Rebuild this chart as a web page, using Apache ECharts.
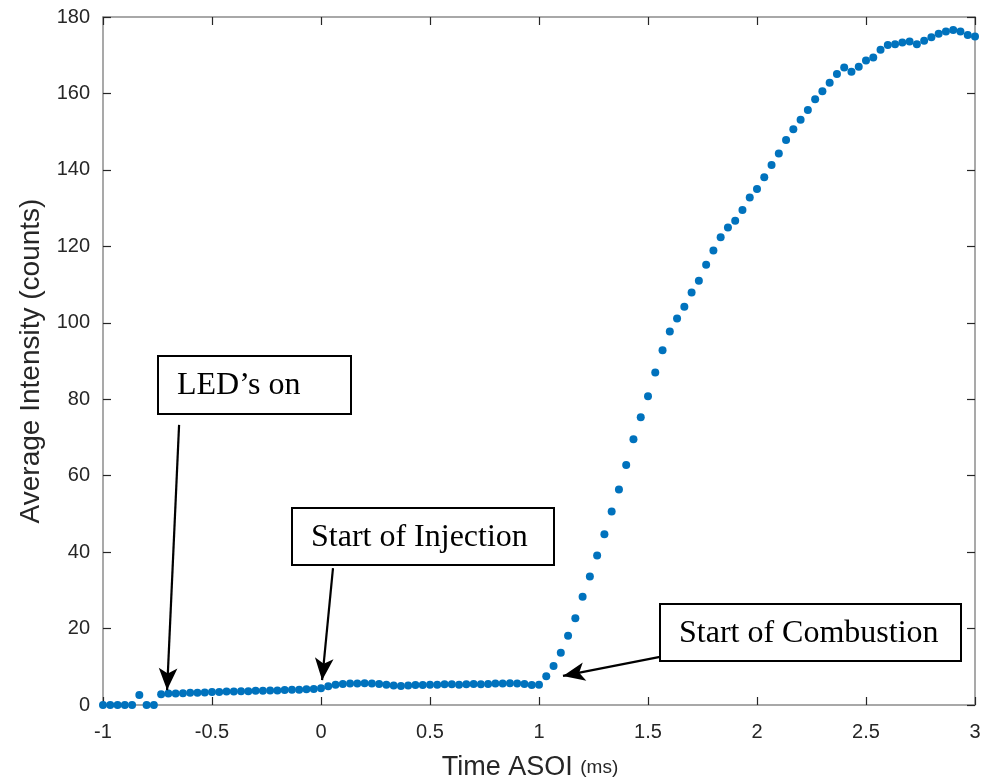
<!DOCTYPE html>
<html>
<head>
<meta charset="utf-8">
<script src="https://cdn.jsdelivr.net/npm/echarts@6/dist/echarts.min.js"></script>
<style>html,body{margin:0;padding:0;background:#fff}#c{width:984px;height:782px}</style>
</head>
<body>
<div id="c"></div>
<script>
// Sample times (ms after start of injection), 30 kHz frame rate
var timeMs = [
 -1.0000,-0.9667,-0.9333,-0.9000,-0.8667,-0.8333,-0.8000,-0.7667,-0.7333,-0.7000,
 -0.6667,-0.6333,-0.6000,-0.5667,-0.5333,-0.5000,-0.4667,-0.4333,-0.4000,-0.3667,
 -0.3333,-0.3000,-0.2667,-0.2333,-0.2000,-0.1667,-0.1333,-0.1000,-0.0667,-0.0333,
  0.0000, 0.0333, 0.0667, 0.1000, 0.1333, 0.1667, 0.2000, 0.2333, 0.2667, 0.3000,
  0.3333, 0.3667, 0.4000, 0.4333, 0.4667, 0.5000, 0.5333, 0.5667, 0.6000, 0.6333,
  0.6667, 0.7000, 0.7333, 0.7667, 0.8000, 0.8333, 0.8667, 0.9000, 0.9333, 0.9667,
  1.0000, 1.0333, 1.0667, 1.1000, 1.1333, 1.1667, 1.2000, 1.2333, 1.2667, 1.3000,
  1.3333, 1.3667, 1.4000, 1.4333, 1.4667, 1.5000, 1.5333, 1.5667, 1.6000, 1.6333,
  1.6667, 1.7000, 1.7333, 1.7667, 1.8000, 1.8333, 1.8667, 1.9000, 1.9333, 1.9667,
  2.0000, 2.0333, 2.0667, 2.1000, 2.1333, 2.1667, 2.2000, 2.2333, 2.2667, 2.3000,
  2.3333, 2.3667, 2.4000, 2.4333, 2.4667, 2.5000, 2.5333, 2.5667, 2.6000, 2.6333,
  2.6667, 2.7000, 2.7333, 2.7667, 2.8000, 2.8333, 2.8667, 2.9000, 2.9333, 2.9667,
  3.0000
];
// Average intensity (counts)
var intensity = [
  0.0, 0.0, 0.0, 0.0, 0.0, 2.6, 0.0, 0.0, 2.8, 3.0,
  3.0, 3.1, 3.2, 3.2, 3.3, 3.4, 3.4, 3.5, 3.5, 3.6,
  3.6, 3.7, 3.7, 3.8, 3.8, 3.9, 4.0, 4.0, 4.1, 4.2,
  4.4, 4.9, 5.3, 5.5, 5.6, 5.6, 5.7, 5.6, 5.5, 5.3,
  5.1, 5.0, 5.1, 5.2, 5.2, 5.3, 5.3, 5.4, 5.4, 5.3,
  5.4, 5.5, 5.4, 5.5, 5.6, 5.6, 5.7, 5.6, 5.5, 5.2,
  5.3, 7.5, 10.2, 13.7, 18.1, 22.7, 28.3, 33.6, 39.1, 44.7,
  50.6, 56.4, 62.8, 69.5, 75.3, 80.8, 87.0, 92.8, 97.7, 101.1,
  104.2, 107.9, 111.0, 115.2, 118.9, 122.4, 124.9, 126.7, 129.5, 132.8,
  135.0, 138.1, 141.3, 144.3, 147.8, 150.6, 153.1, 155.7, 158.5, 160.6,
  162.8, 165.1, 166.8, 165.7, 167.0, 168.6, 169.4, 171.4, 172.7, 172.9,
  173.3, 173.6, 172.9, 173.8, 174.7, 175.6, 176.2, 176.6, 176.2, 175.3,
  174.9
];
// Annotations: label, arrow tail [x, y], arrow head [x, y] in data units
var annotationLabels = ["LED\u2019s on", "Start of Injection", "Start of Combustion"];
var arrowTails = [[-0.651, 73.3], [0.055, 35.8], [1.555, 12.6]];
var arrowHeads = [[-0.706, 3.9], [0.005, 6.5], [1.110, 7.6]];

var chart = echarts.init(document.getElementById('c'), null, {renderer: 'canvas'});
var pts = timeMs.map(function (t, i) { return [t, intensity[i]]; });

var axisColor = '#8c8c8c';
var labelColor = '#262626';
var font = '"Liberation Sans", Arial, sans-serif';

var arrowLines = arrowTails.map(function (s, i) {
  return [{coord: s}, {coord: arrowHeads[i]}];
});

var boxStyle = {fill: '#fff', stroke: '#000', lineWidth: 2};
var boxes = [
  {x: 157, y: 355, w: 193, h: 58},
  {x: 291, y: 507, w: 262, h: 57},
  {x: 659, y: 603, w: 301, h: 57}
];
var graphics = [];
boxes.forEach(function (b, i) {
  graphics.push({
    type: 'rect', left: b.x, top: b.y, z: 100,
    shape: {width: b.w, height: b.h},
    style: boxStyle
  });
  graphics.push({
    type: 'text', z: 101,
    x: b.x + 20, y: b.y + b.h / 2 + 2,
    style: {text: annotationLabels[i], font: '32px "Liberation Serif", "Times New Roman", serif',
      fill: '#000', textVerticalAlign: 'middle', verticalAlign: 'middle'}
  });
});

chart.setOption({
  animation: false,
  backgroundColor: '#fff',
  grid: {left: 103, right: 9, top: 17, bottom: 77, containLabel: false, outerBoundsMode: 'none'},
  xAxis: [{
    type: 'value', min: -1, max: 3, interval: 0.5,
    name: 'Time ASOI {s|(ms)}',
    nameLocation: 'middle', nameGap: 49,
    nameTextStyle: {color: labelColor, fontSize: 27, fontFamily: font, padding: [0, 18, 0, 0],
      rich: {s: {fontSize: 19, color: labelColor, fontFamily: font}}},
    axisLine: {show: true, onZero: false, lineStyle: {color: axisColor, width: 1.5}},
    axisTick: {show: true, inside: true, length: 8, lineStyle: {color: labelColor, width: 1.2}},
    axisLabel: {color: labelColor, fontSize: 20, fontFamily: font, margin: 17,
      formatter: function (v) { return String(v); }},
    splitLine: {show: false}
  }, {
    type: 'value', min: -1, max: 3, interval: 0.5, position: 'top',
    axisLine: {show: true, onZero: false, lineStyle: {color: axisColor, width: 1.5}},
    axisTick: {show: true, inside: true, length: 8, lineStyle: {color: labelColor, width: 1.2}},
    axisLabel: {show: false}, splitLine: {show: false}
  }],
  yAxis: [{
    type: 'value', min: 0, max: 180, interval: 20,
    name: 'Average Intensity (counts)',
    nameLocation: 'middle', nameGap: 55,
    nameTextStyle: {color: labelColor, fontSize: 28, fontFamily: font},
    axisLine: {show: true, onZero: false, lineStyle: {color: axisColor, width: 1.5}},
    axisTick: {show: true, inside: true, length: 8, lineStyle: {color: labelColor, width: 1.2}},
    axisLabel: {color: labelColor, fontSize: 20, fontFamily: font, margin: 13},
    splitLine: {show: false}
  }, {
    type: 'value', min: 0, max: 180, interval: 20, position: 'right',
    axisLine: {show: true, onZero: false, lineStyle: {color: axisColor, width: 1.5}},
    axisTick: {show: true, inside: true, length: 8, lineStyle: {color: labelColor, width: 1.2}},
    axisLabel: {show: false}, splitLine: {show: false}
  }],
  series: [{
    type: 'scatter',
    data: pts,
    symbol: 'circle',
    symbolSize: 8,
    itemStyle: {color: '#0072BD', opacity: 1},
    silent: true,
    z: 5,
    markLine: {
      silent: true,
      symbol: ['none', 'arrow'],
      symbolSize: [14, 22],
      label: {show: false},
      lineStyle: {color: '#000', width: 2.2, type: 'solid'},
      data: arrowLines,
      z: 20
    }
  }],
  graphic: graphics
});
</script>
</body>
</html>
